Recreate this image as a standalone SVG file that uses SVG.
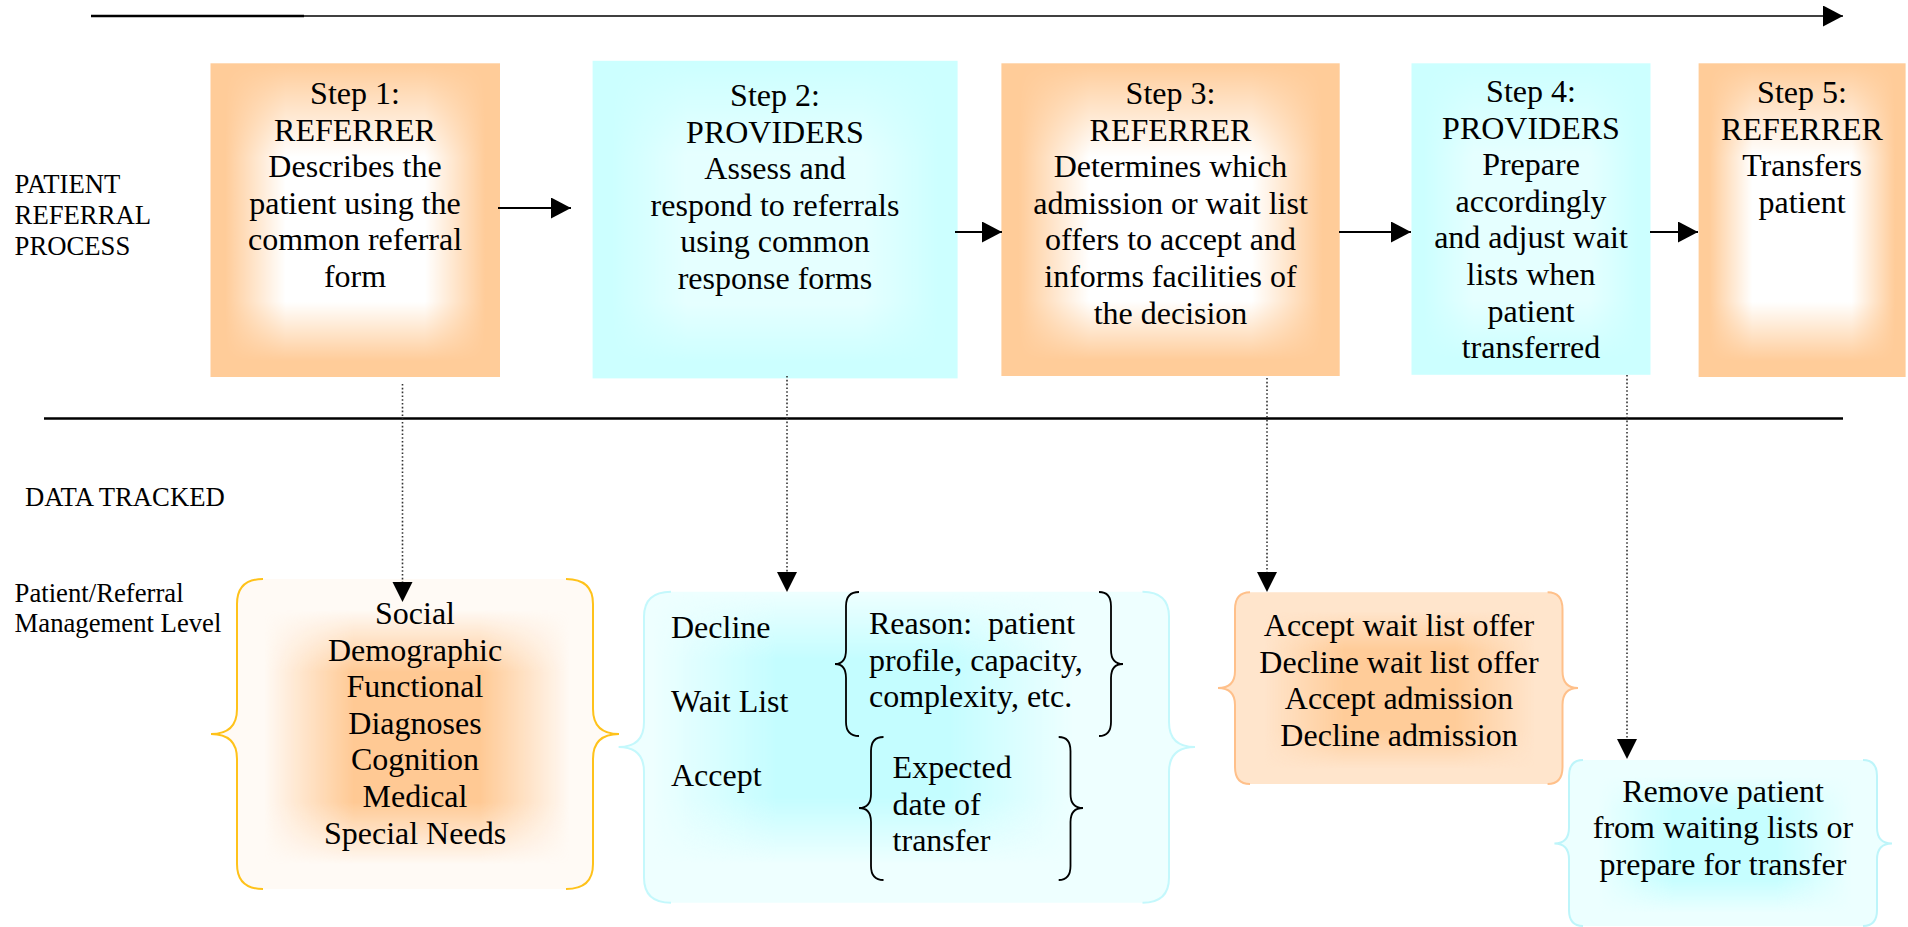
<svg xmlns="http://www.w3.org/2000/svg" width="1908" height="927" viewBox="0 0 1908 927">
<style>
.t{font-family:"Liberation Serif","Times New Roman",serif;font-size:32px;fill:#000}
.tc{text-anchor:middle}
.lb{font-family:"Liberation Serif","Times New Roman",serif;font-size:26.7px;fill:#000}
.ln{stroke:#000;stroke-width:2;fill:none}
.dot{stroke:#333;stroke-width:1.6;fill:none;stroke-dasharray:1.6 2.2}
.ib{stroke:#000;stroke-width:1.8;fill:none}
.or{fill:#FFCC99}
.cy{fill:#CCFFFF}
</style>
<defs>
<marker id="ah" markerUnits="userSpaceOnUse" markerWidth="20" markerHeight="21" refX="20" refY="10.5" orient="auto" viewBox="0 0 20 21"><path d="M0,0 L20,10.5 L0,21 Z" fill="#000"/></marker>
<linearGradient id="lgH" x1="0" y1="0" x2="1" y2="0">
<stop offset="0" stop-color="#000"/><stop offset="0.05" stop-color="#000"/><stop offset="0.26" stop-color="#fff"/><stop offset="0.74" stop-color="#fff"/><stop offset="0.95" stop-color="#000"/><stop offset="1" stop-color="#000"/>
</linearGradient>
<linearGradient id="lgV" x1="0" y1="0" x2="0" y2="1">
<stop offset="0" stop-color="#000"/><stop offset="0.04" stop-color="#222"/><stop offset="0.3" stop-color="#fff"/><stop offset="0.76" stop-color="#fff"/><stop offset="0.95" stop-color="#000"/><stop offset="1" stop-color="#000"/>
</linearGradient>
<linearGradient id="lgH2" x1="0" y1="0" x2="1" y2="0">
<stop offset="0" stop-color="#000"/><stop offset="0.13" stop-color="#000"/><stop offset="0.35" stop-color="#fff"/><stop offset="0.66" stop-color="#fff"/><stop offset="0.88" stop-color="#000"/><stop offset="1" stop-color="#000"/>
</linearGradient>
<linearGradient id="lgV2" x1="0" y1="0" x2="0" y2="1">
<stop offset="0" stop-color="#000"/><stop offset="0.1" stop-color="#000"/><stop offset="0.3" stop-color="#fff"/><stop offset="0.72" stop-color="#fff"/><stop offset="0.92" stop-color="#000"/><stop offset="1" stop-color="#000"/>
</linearGradient>
<mask id="mH" maskContentUnits="objectBoundingBox"><rect width="1" height="1" fill="url(#lgH)"/></mask>
<mask id="mV" maskContentUnits="objectBoundingBox"><rect width="1" height="1" fill="url(#lgV)"/></mask>
<mask id="mH2" maskContentUnits="objectBoundingBox"><rect width="1" height="1" fill="url(#lgH2)"/></mask>
<mask id="mV2" maskContentUnits="objectBoundingBox"><rect width="1" height="1" fill="url(#lgV2)"/></mask>
</defs>
<rect width="1908" height="927" fill="#fff"/>

<g id="labels">
<text class="lb" x="14.6" y="193">PATIENT</text>
<text class="lb" x="14.6" y="224">REFERRAL</text>
<text class="lb" x="14.6" y="255">PROCESS</text>
<text class="lb" x="25" y="506">DATA TRACKED</text>
<text class="lb" x="14.6" y="602">Patient/Referral</text>
<text class="lb" x="14.6" y="632">Management Level</text>
</g>

<g id="step1">
<rect class="or" x="210.5" y="63.3" width="289.5" height="313.7"/>
<g mask="url(#mV)"><rect x="210.5" y="63.3" width="289.5" height="313.7" fill="#fff" mask="url(#mH)"/></g>
<text class="t tc" x="355" y="104">Step 1:</text>
<text class="t tc" x="355" y="140.6">REFERRER</text>
<text class="t tc" x="355" y="177.2">Describes the</text>
<text class="t tc" x="355" y="213.8">patient using the</text>
<text class="t tc" x="355" y="250.4">common referral</text>
<text class="t tc" x="355" y="287">form</text>
</g>
<g id="step2">
<rect class="cy" x="592.6" y="60.8" width="365" height="317.6"/>
<g mask="url(#mV)" opacity="0.5"><rect x="592.6" y="60.8" width="365" height="317.6" fill="#fff" mask="url(#mH)"/></g>
<text class="t tc" x="775" y="106">Step 2:</text>
<text class="t tc" x="775" y="142.6">PROVIDERS</text>
<text class="t tc" x="775" y="179.2">Assess and</text>
<text class="t tc" x="775" y="215.8">respond to referrals</text>
<text class="t tc" x="775" y="252.4">using common</text>
<text class="t tc" x="775" y="289">response forms</text>
</g>
<g id="step3">
<rect class="or" x="1001.4" y="63.3" width="338.3" height="312.7"/>
<g mask="url(#mV)"><rect x="1001.4" y="63.3" width="338.3" height="312.7" fill="#fff" mask="url(#mH)"/></g>
<text class="t tc" x="1170.5" y="104">Step 3:</text>
<text class="t tc" x="1170.5" y="140.6">REFERRER</text>
<text class="t tc" x="1170.5" y="177.2">Determines which</text>
<text class="t tc" x="1170.5" y="213.8">admission or wait list</text>
<text class="t tc" x="1170.5" y="250.4">offers to accept and</text>
<text class="t tc" x="1170.5" y="287">informs facilities of</text>
<text class="t tc" x="1170.5" y="323.6">the decision</text>
</g>
<g id="step4">
<rect class="cy" x="1411.5" y="63.3" width="239" height="311.5"/>
<g mask="url(#mV)" opacity="0.5"><rect x="1411.5" y="63.3" width="239" height="311.5" fill="#fff" mask="url(#mH)"/></g>
<text class="t tc" x="1531" y="102">Step 4:</text>
<text class="t tc" x="1531" y="138.6">PROVIDERS</text>
<text class="t tc" x="1531" y="175.2">Prepare</text>
<text class="t tc" x="1531" y="211.8">accordingly</text>
<text class="t tc" x="1531" y="248.4">and adjust wait</text>
<text class="t tc" x="1531" y="285">lists when</text>
<text class="t tc" x="1531" y="321.6">patient</text>
<text class="t tc" x="1531" y="358.2">transferred</text>
</g>
<g id="step5">
<rect class="or" x="1698.6" y="63.3" width="207" height="313.7"/>
<g mask="url(#mV)"><rect x="1698.6" y="63.3" width="207" height="313.7" fill="#fff" mask="url(#mH)"/></g>
<text class="t tc" x="1802" y="103">Step 5:</text>
<text class="t tc" x="1802" y="139.6">REFERRER</text>
<text class="t tc" x="1802" y="176.2">Transfers</text>
<text class="t tc" x="1802" y="212.8">patient</text>
</g>

<g id="data1">
<path d="M263,579 L566,579 Q593,579 593,604 L593,709 Q593,734 619,734 Q593,734 593,759 L593,864 Q593,889 566,889 L263,889 Q237,889 237,864 L237,759 Q237,734 211,734 Q237,734 237,709 L237,604 Q237,579 263,579 Z" fill="#FFFAF5"/>
<g mask="url(#mV2)"><rect x="211" y="579" width="408" height="310" fill="#FFC994" mask="url(#mH2)"/></g>
<path d="M263,579 Q237,579 237,604 L237,709 Q237,734 211,734 Q237,734 237,759 L237,864 Q237,889 263,889" fill="none" stroke="#FFC21A" stroke-width="2"/>
<path d="M566,579 Q593,579 593,604 L593,709 Q593,734 619,734 Q593,734 593,759 L593,864 Q593,889 566,889" fill="none" stroke="#FFC21A" stroke-width="2"/>
<text class="t tc" x="415" y="624">Social</text>
<text class="t tc" x="415" y="660.6">Demographic</text>
<text class="t tc" x="415" y="697.2">Functional</text>
<text class="t tc" x="415" y="733.8">Diagnoses</text>
<text class="t tc" x="415" y="770.4">Cognition</text>
<text class="t tc" x="415" y="807">Medical</text>
<text class="t tc" x="415" y="843.6">Special Needs</text>
</g>

<g id="data2">
<path d="M671,591.7 L1142.5,591.7 Q1169,591.7 1169,616.7 L1169,722 Q1169,747 1195,747 Q1169,747 1169,772 L1169,877.7 Q1169,902.7 1142.5,902.7 L671,902.7 Q644,902.7 644,877.7 L644,772 Q644,747 618.6,747 Q644,747 644,722 L644,616.7 Q644,591.7 671,591.7 Z" fill="#EEFFFF"/>
<g mask="url(#mV2)"><rect x="580" y="560" width="560" height="330" fill="#C4FDFF" mask="url(#mH2)"/></g>
<path d="M671,591.7 Q644,591.7 644,616.7 L644,722 Q644,747 618.6,747 Q644,747 644,772 L644,877.7 Q644,902.7 671,902.7" fill="none" stroke="#C4F8FC" stroke-width="2"/>
<path d="M1142.5,591.7 Q1169,591.7 1169,616.7 L1169,722 Q1169,747 1195,747 Q1169,747 1169,772 L1169,877.7 Q1169,902.7 1142.5,902.7" fill="none" stroke="#C4F8FC" stroke-width="2"/>
<path class="ib" d="M859,592 Q846,592 846,606 L846,650 Q846,664 835,664 Q846,664 846,678 L846,722 Q846,736 859,736"/>
<path class="ib" d="M1099,592 Q1111,592 1111,606 L1111,650 Q1111,664 1123,664 Q1111,664 1111,678 L1111,722 Q1111,736 1099,736"/>
<path class="ib" d="M883.5,737 Q871,737 871,751 L871,794 Q871,808 859,808 Q871,808 871,822 L871,866 Q871,880 883.5,880"/>
<path class="ib" d="M1058.7,737 Q1070.5,737 1070.5,751 L1070.5,794 Q1070.5,808 1083,808 Q1070.5,808 1070.5,822 L1070.5,866 Q1070.5,880 1058.7,880"/>
<text class="t" x="671" y="638">Decline</text>
<text class="t" x="671" y="712">Wait List</text>
<text class="t" x="671" y="786">Accept</text>
<text class="t" x="869" y="634" xml:space="preserve">Reason:  patient</text>
<text class="t" x="869" y="670.6">profile, capacity,</text>
<text class="t" x="869" y="707.2">complexity, etc.</text>
<text class="t" x="892.6" y="778">Expected</text>
<text class="t" x="892.6" y="814.6">date of</text>
<text class="t" x="892.6" y="851.2">transfer</text>
</g>

<g id="data3">
<path d="M1250,592.3 L1547.6,592.3 Q1562.5,592.3 1562.5,609.3 L1562.5,671 Q1562.5,688 1578,688 Q1562.5,688 1562.5,705 L1562.5,767 Q1562.5,784 1547.6,784 L1250,784 Q1235,784 1235,767 L1235,705 Q1235,688 1218,688 Q1235,688 1235,671 L1235,609.3 Q1235,592.3 1250,592.3 Z" fill="#FFE5CC"/>
<g mask="url(#mV2)"><rect x="1218" y="592.3" width="360" height="191.7" fill="#FFCC99" mask="url(#mH2)"/></g>
<path d="M1250,592.3 Q1235,592.3 1235,609.3 L1235,671 Q1235,688 1218,688 Q1235,688 1235,705 L1235,767 Q1235,784 1250,784" fill="none" stroke="#FFC08A" stroke-width="2"/>
<path d="M1547.6,592.3 Q1562.5,592.3 1562.5,609.3 L1562.5,671 Q1562.5,688 1578,688 Q1562.5,688 1562.5,705 L1562.5,767 Q1562.5,784 1547.6,784" fill="none" stroke="#FFC08A" stroke-width="2"/>
<text class="t tc" x="1399" y="636">Accept wait list offer</text>
<text class="t tc" x="1399" y="672.6">Decline wait list offer</text>
<text class="t tc" x="1399" y="709.2">Accept admission</text>
<text class="t tc" x="1399" y="745.8">Decline admission</text>
</g>

<g id="data4">
<path d="M1583,760 L1863,760 Q1877,760 1877,776 L1877,827.5 Q1877,843.5 1892,843.5 Q1877,843.5 1877,859.5 L1877,910 Q1877,926 1863,926 L1583,926 Q1569,926 1569,910 L1569,859.5 Q1569,843.5 1554.4,843.5 Q1569,843.5 1569,827.5 L1569,776 Q1569,760 1583,760 Z" fill="#ECFFFF"/>
<g mask="url(#mV2)"><rect x="1554.4" y="760" width="337.6" height="166" fill="#C6FEFF" mask="url(#mH2)"/></g>
<path d="M1583,760 Q1569,760 1569,776 L1569,827.5 Q1569,843.5 1554.4,843.5 Q1569,843.5 1569,859.5 L1569,910 Q1569,926 1583,926" fill="none" stroke="#BDF5FA" stroke-width="2"/>
<path d="M1863,760 Q1877,760 1877,776 L1877,827.5 Q1877,843.5 1892,843.5 Q1877,843.5 1877,859.5 L1877,910 Q1877,926 1863,926" fill="none" stroke="#BDF5FA" stroke-width="2"/>
<text class="t tc" x="1723" y="801.7">Remove patient</text>
<text class="t tc" x="1723" y="838.3">from waiting lists or</text>
<text class="t tc" x="1723" y="874.9">prepare for transfer</text>
</g>

<g id="connectors">
<path d="M91,16 H1843" stroke="#000" stroke-width="1.6" fill="none" marker-end="url(#ah)"/>
<path d="M91,16 H304" stroke="#000" stroke-width="2.4" fill="none"/>
<path d="M44,418.5 H1843" stroke="#000" stroke-width="2.4" fill="none"/>
<path class="ln" d="M498,208 H571" marker-end="url(#ah)"/>
<path class="ln" d="M955,232 H1002" marker-end="url(#ah)"/>
<path class="ln" d="M1339,232 H1411" marker-end="url(#ah)"/>
<path class="ln" d="M1650,232 H1698" marker-end="url(#ah)"/>
<path class="dot" d="M402.5,384 V584"/>
<path d="M392.5,582 L412.5,582 L402.5,602 Z" fill="#000"/>
<path class="dot" d="M787,376 V574"/>
<path d="M777,572 L797,572 L787,592 Z" fill="#000"/>
<path class="dot" d="M1267,378 V574"/>
<path d="M1257,572 L1277,572 L1267,592 Z" fill="#000"/>
<path class="dot" d="M1627,375 V741"/>
<path d="M1617,739 L1637,739 L1627,759 Z" fill="#000"/>
</g>
</svg>
